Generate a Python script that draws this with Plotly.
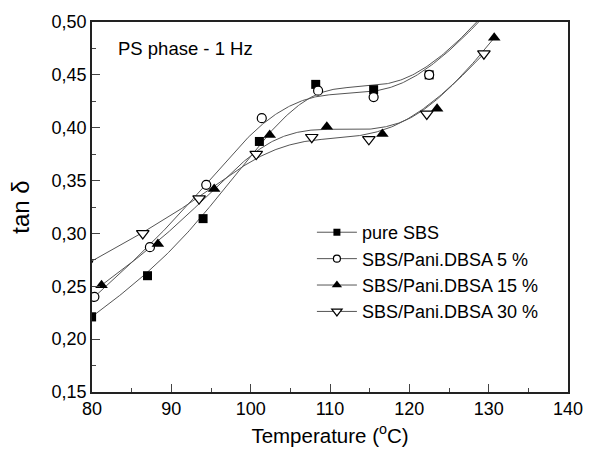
import numpy as np
import plotly.graph_objects as go

# ---- data (last/first points partly outside the axes) ----
x_sbs = [79.95, 87.0, 94.0, 101.1, 108.2, 115.5, 122.5, 129.5]
y_sbs = [0.221, 0.260, 0.314, 0.387, 0.441, 0.436, 0.450, 0.508]

x_p5 = [80.3, 87.3, 94.4, 101.4, 108.5, 115.5, 122.5, 129.5]
y_p5 = [0.240, 0.287, 0.346, 0.409, 0.435, 0.429, 0.450, 0.506]

x_p15 = [81.2, 88.3, 95.4, 102.4, 109.6, 116.6, 123.5, 130.7]
y_p15 = [0.251, 0.290, 0.342, 0.393, 0.401, 0.394, 0.418, 0.485]

x_p30 = [79.3, 86.4, 93.5, 100.7, 107.7, 114.9, 122.2, 129.4]
y_p30 = [0.271, 0.300, 0.333, 0.375, 0.391, 0.389, 0.413, 0.470]

names = ["pure SBS", "SBS/Pani.DBSA 5 %", "SBS/Pani.DBSA 15 %", "SBS/Pani.DBSA 30 %"]
x_ticks = [80, 90, 100, 110, 120, 130, 140]
y_ticks = [0.15, 0.20, 0.25, 0.30, 0.35, 0.40, 0.45, 0.50]


def bspline(xs, ys, n=300, k=3):
    """Clamped cubic B-spline using the data points as control points."""
    P = np.column_stack([xs, ys])
    m = len(P)
    knots = np.concatenate([np.zeros(k), np.linspace(0, 1, m - k + 1), np.ones(k)])
    t = np.linspace(0, 1, n)
    t[-1] -= 1e-10
    N = np.zeros((n, len(knots) - 1))
    for i in range(len(knots) - 1):
        N[:, i] = (t >= knots[i]) & (t < knots[i + 1])
    for d in range(1, k + 1):
        Nn = np.zeros((n, len(knots) - 1 - d))
        for i in range(len(knots) - 1 - d):
            a = knots[i + d] - knots[i]
            b = knots[i + d + 1] - knots[i + 1]
            term = np.zeros(n)
            if a > 0:
                term += (t - knots[i]) / a * N[:, i]
            if b > 0:
                term += (knots[i + d + 1] - t) / b * N[:, i + 1]
            Nn[:, i] = term
        N = Nn
    C = N @ P
    return C[:, 0], C[:, 1]


series = [
    (x_sbs, y_sbs, dict(symbol="square", size=9, color="black")),
    (x_p5, y_p5, dict(symbol="circle", size=9, color="white", line=dict(color="black", width=1.2))),
    (x_p15, y_p15, dict(symbol="triangle-up", size=11, color="black")),
    (x_p30, y_p30, dict(symbol="triangle-down", size=11, color="white", line=dict(color="black", width=1.2))),
]

line_color = "#555555"
fig = go.Figure()
for (xs, ys, mk), nm in zip(series, names):
    cx, cy = bspline(xs, ys)
    fig.add_trace(go.Scatter(x=cx, y=cy, mode="lines", line=dict(color=line_color, width=1),
                             showlegend=False, hoverinfo="skip"))
for (xs, ys, mk), nm in zip(series, names):
    fig.add_trace(go.Scatter(x=xs, y=ys, mode="markers", marker=mk, showlegend=False, cliponaxis=True))
    fig.add_trace(go.Scatter(x=[None], y=[None], mode="lines+markers", name=nm,
                             marker=dict(mk, size=mk["size"] - 2), line=dict(color=line_color, width=1)))

font_family = "Liberation Sans, Arial, sans-serif"
fig.add_annotation(x=83.0, y=0.4746, xref="x", yref="y", text="PS phase - 1 Hz", showarrow=False,
                   xanchor="left", yanchor="middle", font=dict(size=18.5, color="black", family=font_family))

fig.update_layout(
    width=595, height=456,
    margin=dict(l=92, r=16, t=19, b=64),
    paper_bgcolor="white", plot_bgcolor="white",
    separators=",.",
    font=dict(family=font_family, color="black", size=18),
    legend=dict(x=0.462, y=0.481, xanchor="left", yanchor="top", bgcolor="rgba(0,0,0,0)",
                font=dict(size=18), itemwidth=40, tracegroupgap=0),
    xaxis=dict(range=[80, 140], tickvals=x_ticks, ticks="inside", ticklen=8, tickwidth=1.3,
               minor=dict(ticks="inside", ticklen=4, dtick=5, tickwidth=1.3),
               showline=True, linewidth=1.5, linecolor="#222", mirror=True, showgrid=False, zeroline=False,
               title=dict(text="Temperature (<sup>o</sup>C)", font=dict(size=20.5), standoff=10),
               tickfont=dict(size=18)),
    yaxis=dict(range=[0.15, 0.50], tickvals=y_ticks, tickformat=".2f", ticks="inside", ticklen=8, tickwidth=1.3,
               minor=dict(ticks="inside", ticklen=4, dtick=0.025, tickwidth=1.3),
               showline=True, linewidth=1.5, linecolor="#222", mirror=True, showgrid=False, zeroline=False,
               title=dict(text="tan δ", font=dict(size=24), standoff=15),
               tickfont=dict(size=18)),
)

fig.write_html("out.html")
